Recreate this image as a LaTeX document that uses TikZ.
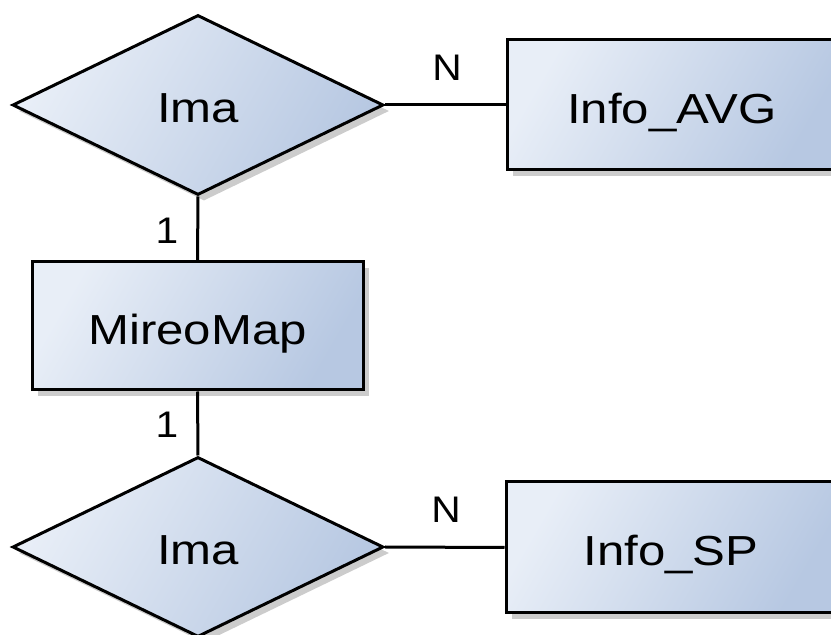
\documentclass[tikz,border=0pt]{standalone}
\usepackage{fontspec}
\setmainfont{Liberation Sans}
\usetikzlibrary{shapes.geometric,shadows}
\definecolor{erlight}{HTML}{E8EEF7}
\definecolor{erdark}{HTML}{B7C8E2}
\newcommand{\erwide}[1]{\raisebox{0pt}[\dimexpr\height+6pt\relax][0pt]{\scalebox{1.17}[1]{#1}}}
\tikzset{
  erbase/.style={draw=black, line width=3pt, inner sep=0pt,
    left color=erlight, right color=erdark, shading angle=60,
    drop shadow={shadow xshift=6pt, shadow yshift=-6pt, opacity=0.2, fill=black},
    font=\fontsize{42}{50}\selectfont},
  entity/.style={erbase, rectangle, minimum width=330pt, minimum height=130pt},
  relation/.style={erbase, diamond, minimum width=371pt, minimum height=180pt},
  card/.style={font=\fontsize{37}{44}\selectfont},
  link/.style={line width=3pt}
}
\begin{document}
\begin{tikzpicture}[x=1pt,y=1pt]
\useasboundingbox (0,0) rectangle (831,635);
\clip (0,0) rectangle (831,635);
	\node[relation] (imaTop) at (198,530) {\erwide{Ima}};
	\node[entity] (infoAvg) at (672,530) {\erwide{Info\_AVG}};
	\node[entity, minimum width=331pt, minimum height=128pt] (mireo) at (197.5,309) {\erwide{MireoMap}};
	\node[relation] (imaBot) at (198,88) {\erwide{Ima}};
	\node[entity, minimum height=131pt] (infoSp) at (671,87.5) {\erwide{Info\_SP}};

	\draw[link] (imaTop.east) -- (infoAvg.west);
	\draw[link] (imaTop.south) -- (mireo.north);
	\draw[link] (mireo.south) -- (imaBot.north);
	\draw[link] (imaBot.east) -- (infoSp.west);

	\node[card] (nTop) at (447,567) {\scalebox{1.1}[1]{N}};
	\node[card] (oneTop) at (167,404) {\scalebox{1.1}[1]{1}};
	\node[card] (oneBot) at (167,210) {\scalebox{1.1}[1]{1}};
	\node[card] (nBot) at (446,125) {\scalebox{1.1}[1]{N}};
\end{tikzpicture}
\end{document}
